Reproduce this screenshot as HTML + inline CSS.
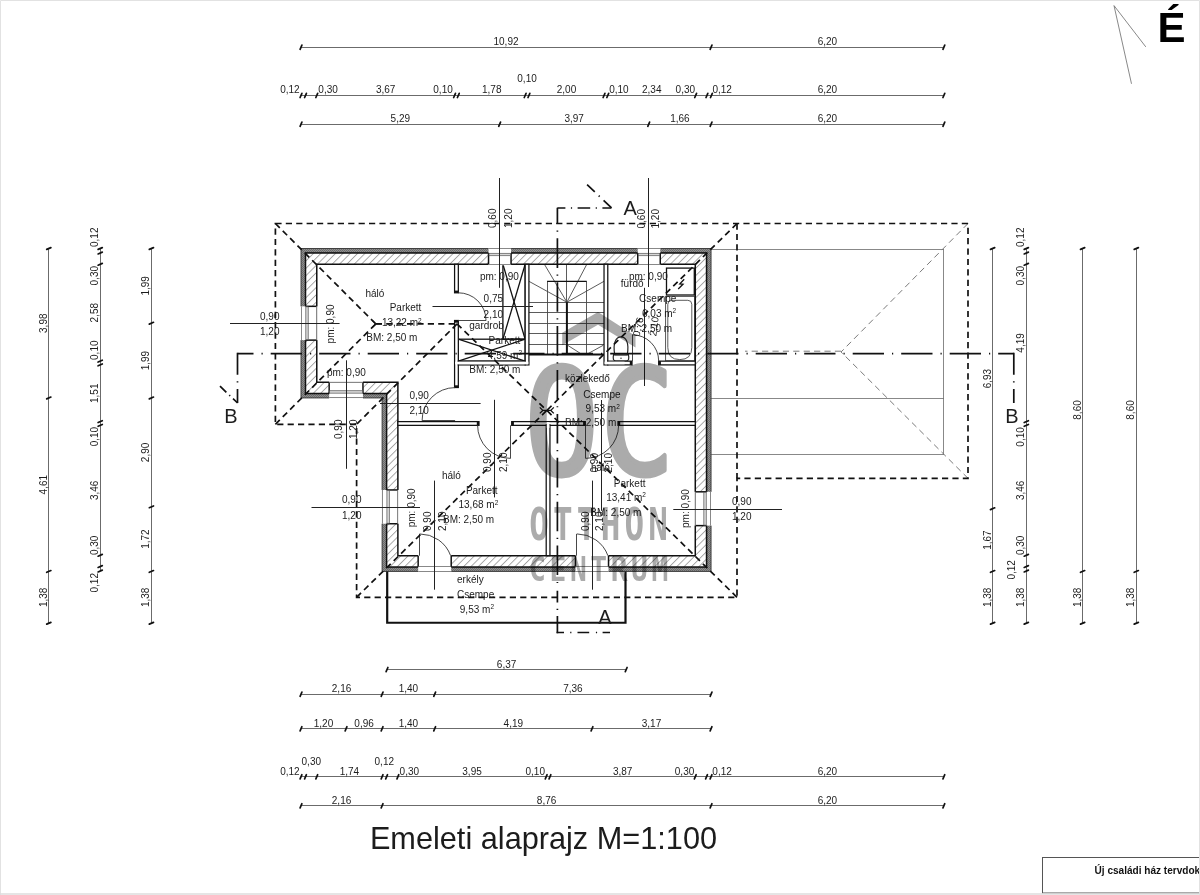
<!DOCTYPE html>
<html lang="hu"><head><meta charset="utf-8"><title>Emeleti alaprajz M=1:100</title>
<style>html,body{margin:0;padding:0;background:#fff;}body{width:1200px;height:895px;overflow:hidden;font-family:"Liberation Sans", Arial, sans-serif;}svg{display:block}</style>
</head><body>
<svg width="1200" height="895" viewBox="0 0 1200 895">
<defs>
<pattern id="hatch" width="5.2" height="5.2" patternUnits="userSpaceOnUse" patternTransform="rotate(-45)">
<rect width="5.2" height="5.2" fill="#fff"/><line x1="0" y1="0.5" x2="5.2" y2="0.5" stroke="#8a8a8a" stroke-width="0.75"/></pattern>
<pattern id="ins" width="2" height="2" patternUnits="userSpaceOnUse">
<rect width="2" height="2" fill="#8e8e8e"/><rect width="1" height="1" fill="#6a6a6a"/><rect x="1" y="1" width="1" height="1" fill="#6a6a6a"/></pattern>
</defs>
<style>
text{font-family:"Liberation Sans", Arial, sans-serif;fill:#1c1c1c}
.t{font-size:10px}
.sup{font-size:6.5px}
.thin{stroke:#6a6a6a;stroke-width:0.8;fill:none}
.thin2{stroke:#8a8a8a;stroke-width:0.8;fill:none}
.dimln{stroke:#5a5a5a;stroke-width:0.9;fill:none}
.mark{stroke:#222;stroke-width:1;fill:none}
.tick{stroke:#111;stroke-width:1.7;fill:none;stroke-linecap:round}
.wall{stroke:#111;stroke-width:1.5;fill:none;stroke-linejoin:miter}
.wallh{stroke:none;fill:url(#hatch)}
.insf{stroke:none;fill:url(#ins)}
.part{stroke:#111;stroke-width:1.25;fill:#fff}
.blk{stroke:#111;stroke-width:1.3;fill:none}
.door{stroke:#333;stroke-width:0.9;fill:none}
.roof{stroke:#111;stroke-width:1.7;fill:none;stroke-dasharray:6.2 4.2}
.roofthin{stroke:#7a7a7a;stroke-width:1;fill:none;stroke-dasharray:6.2 4.2}
.sect{stroke:#111;stroke-width:1.7;fill:none;stroke-dasharray:29 6.5 1.5 6.5}
.bal{stroke:#111;stroke-width:2.2;fill:none;stroke-linejoin:miter}
.wm{fill:#ababab;stroke:none}
.wmt{fill:#ababab;stroke:#ababab;font-weight:normal}
.fix{stroke:#484848;stroke-width:0.9;fill:none}
.fixb{stroke:#222;stroke-width:1.2;fill:#fff}
</style>
<rect x="0" y="0" width="1200" height="895" fill="#fff"/>
<g id="rightroof">
<line class="thin" x1="711.05" y1="249.5" x2="943.86" y2="249.5"/>
<line class="thin" x1="711.05" y1="398.5" x2="943.86" y2="398.5"/>
<line class="thin" x1="711.05" y1="454.5" x2="943.86" y2="454.5"/>
<line class="thin" x1="943.5" y1="249.2" x2="943.5" y2="454.8"/>
<line class="roofthin" x1="968" y1="223.5" x2="841.06" y2="352"/>
<line class="roofthin" x1="968" y1="478.3" x2="841.06" y2="352"/>
<line class="roofthin" x1="841.06" y1="351.2" x2="745" y2="351.2"/>
</g>
<g id="stairs">
<line class="fix" x1="528.93" y1="302.5" x2="604.03" y2="302.5"/>
<line class="fix" x1="528.93" y1="312.5" x2="604.03" y2="312.5"/>
<line class="fix" x1="528.93" y1="323.5" x2="604.03" y2="323.5"/>
<line class="fix" x1="528.93" y1="333.5" x2="604.03" y2="333.5"/>
<line class="fix" x1="528.93" y1="344.5" x2="604.03" y2="344.5"/>
<line class="fix" x1="547.5" y1="281.3" x2="547.5" y2="354.6"/>
<line class="fix" x1="586.5" y1="281.3" x2="586.5" y2="354.6"/>
<line class="fix" x1="566.9" y1="302.2" x2="528.93" y2="281.3"/>
<line class="fix" x1="566.9" y1="302.2" x2="544.4" y2="264.27"/>
<line class="fix" x1="566.5" y1="302.2" x2="566.5" y2="264.27"/>
<line class="fix" x1="566.9" y1="302.2" x2="586.8" y2="264.27"/>
<line class="fix" x1="566.9" y1="302.2" x2="604.03" y2="281.3"/>
<line class="fix" x1="568" y1="345.5" x2="581" y2="353.8"/>
<line class="fix" x1="603.2" y1="345.3" x2="587.7" y2="353.8"/>
<line class="blk" x1="547.1" y1="281.3" x2="586.7" y2="281.3"/>
<line x1="566.9" y1="302.2" x2="566.9" y2="354.6" stroke="#111" stroke-width="2"/>
<line x1="528.93" y1="354.6" x2="604.03" y2="354.6" stroke="#111" stroke-width="2"/>
</g>
<g id="fixtures">
<rect class="blk" x="666.5" y="268.1" width="27.8" height="26.9"/>
<path class="blk" d="M684.2 279.2 L679.8 283.9 L683 284.2 L678.2 289"/>
<rect class="fix" x="665.6" y="296.4" width="29" height="64.4"/>
<path class="fix" d="M667.8 304.3 Q667.8 300.3 671.8 300.3 L687.8 300.3 Q691.8 300.3 691.8 304.3 L691.8 347.5 Q691.8 359.6 679.8 359.6 Q667.8 359.6 667.8 347.5 Z"/>
<path class="fixb" d="M613.6 354.6 Q612 361 616 361 L626 361 Q630 361 628.4 354.6 Z"/>
<path class="fixb" d="M614.8 354.8 C612.5 343 616 336.8 621 336.8 C626 336.8 629.5 343 627.2 354.8 Z"/>
<circle cx="621" cy="358.2" r="0.7" fill="#222"/>
</g>
<g id="closets">
<rect class="blk" x="502.9" y="264.27" width="22.27" height="74.93"/>
<line class="blk" x1="502.9" y1="264.27" x2="525.17" y2="339.2"/>
<line class="blk" x1="525.17" y1="264.27" x2="502.9" y2="339.2"/>
<rect class="blk" x="458.33" y="339.2" width="66.84" height="21.95"/>
<line class="blk" x1="458.33" y1="339.2" x2="525.17" y2="361.15"/>
<line class="blk" x1="525.17" y1="339.2" x2="458.33" y2="361.15"/>
</g>
<g id="walls">
<path fill-rule="evenodd" d="M301 248.5 L711.05 248.5 L711.05 571.43 L382.11 571.43 L382.11 397.95 L301 397.95 Z M305.51 253.01 L706.54 253.01 L706.54 566.92 L386.61 566.92 L386.61 393.44 L305.51 393.44 Z" fill="url(#ins)" stroke="#333" stroke-width="0.9"/>
<path fill-rule="evenodd" d="M305.51 253.01 L706.54 253.01 L706.54 566.92 L386.61 566.92 L386.61 393.44 L305.51 393.44 Z M316.77 264.27 L695.28 264.27 L695.28 555.66 L397.88 555.66 L397.88 382.18 L316.77 382.18 Z" fill="url(#hatch)" stroke="#111" stroke-width="1.5"/>
<rect x="300" y="306.33" width="17.77" height="33.79" fill="#fff"/>
<line class="wall" x1="305.51" y1="306.33" x2="316.77" y2="306.33"/>
<line class="wall" x1="305.51" y1="340.12" x2="316.77" y2="340.12"/>
<line class="thin" x1="301.5" y1="306.33" x2="301.5" y2="340.12"/>
<line class="thin" x1="316.5" y1="306.33" x2="316.5" y2="340.12"/>
<rect x="305.81" y="306.83" width="2.4" height="32.79" fill="#d8d8d8" stroke="#555" stroke-width="0.7"/>
<rect x="329.16" y="381.18" width="33.79" height="17.77" fill="#fff"/>
<line class="wall" x1="329.16" y1="393.44" x2="329.16" y2="382.18"/>
<line class="wall" x1="362.96" y1="393.44" x2="362.96" y2="382.18"/>
<line class="thin" x1="329.16" y1="397.5" x2="362.96" y2="397.5"/>
<line class="thin" x1="329.16" y1="382.5" x2="362.96" y2="382.5"/>
<rect x="329.66" y="390.74" width="32.79" height="2.4" fill="#d8d8d8" stroke="#555" stroke-width="0.7"/>
<rect x="488.54" y="247.5" width="22.53" height="17.77" fill="#fff"/>
<line class="wall" x1="488.54" y1="253.01" x2="488.54" y2="264.27"/>
<line class="wall" x1="511.06" y1="253.01" x2="511.06" y2="264.27"/>
<line class="thin" x1="488.54" y1="248.5" x2="511.06" y2="248.5"/>
<line class="thin" x1="488.54" y1="264.5" x2="511.06" y2="264.5"/>
<rect x="489.04" y="253.31" width="21.53" height="2.4" fill="#d8d8d8" stroke="#555" stroke-width="0.7"/>
<rect x="637.74" y="247.5" width="22.53" height="17.77" fill="#fff"/>
<line class="wall" x1="637.74" y1="253.01" x2="637.74" y2="264.27"/>
<line class="wall" x1="660.26" y1="253.01" x2="660.26" y2="264.27"/>
<line class="thin" x1="637.74" y1="248.5" x2="660.26" y2="248.5"/>
<line class="thin" x1="637.74" y1="264.5" x2="660.26" y2="264.5"/>
<rect x="638.24" y="253.31" width="21.53" height="2.4" fill="#d8d8d8" stroke="#555" stroke-width="0.7"/>
<rect x="694.28" y="491.82" width="17.77" height="33.8" fill="#fff"/>
<line class="wall" x1="706.54" y1="491.82" x2="695.28" y2="491.82"/>
<line class="wall" x1="706.54" y1="525.62" x2="695.28" y2="525.62"/>
<line class="thin" x1="710.5" y1="491.82" x2="710.5" y2="525.62"/>
<line class="thin" x1="695.5" y1="491.82" x2="695.5" y2="525.62"/>
<rect x="703.84" y="492.32" width="2.4" height="32.8" fill="#d8d8d8" stroke="#555" stroke-width="0.7"/>
<rect x="381.11" y="489.95" width="17.77" height="33.79" fill="#fff"/>
<line class="wall" x1="386.61" y1="489.95" x2="397.88" y2="489.95"/>
<line class="wall" x1="386.61" y1="523.74" x2="397.88" y2="523.74"/>
<line class="thin" x1="382.5" y1="489.95" x2="382.5" y2="523.74"/>
<line class="thin" x1="397.5" y1="489.95" x2="397.5" y2="523.74"/>
<rect x="386.91" y="490.45" width="2.4" height="32.79" fill="#d8d8d8" stroke="#555" stroke-width="0.7"/>
<rect x="418.16" y="554.66" width="33.04" height="17.77" fill="#fff"/>
<line class="wall" x1="418.16" y1="566.92" x2="418.16" y2="555.66"/>
<line class="wall" x1="451.2" y1="566.92" x2="451.2" y2="555.66"/>
<line class="thin" x1="418.16" y1="571.5" x2="451.2" y2="571.5"/>
<line class="thin" x1="418.16" y1="566.5" x2="451.2" y2="566.5"/>
<rect x="575.49" y="554.66" width="33.04" height="17.77" fill="#fff"/>
<line class="wall" x1="575.49" y1="566.92" x2="575.49" y2="555.66"/>
<line class="wall" x1="608.53" y1="566.92" x2="608.53" y2="555.66"/>
<line class="thin" x1="575.49" y1="571.5" x2="608.53" y2="571.5"/>
<line class="thin" x1="575.49" y1="566.5" x2="608.53" y2="566.5"/>
</g>
<g id="partitions">
<rect class="part" x="454.58" y="264.27" width="3.75" height="28.53"/>
<rect class="part" x="454.58" y="320.5" width="3.75" height="67"/>
<rect class="part" x="525.17" y="264.27" width="3.75" height="100.63"/>
<rect class="part" x="604.03" y="264.27" width="3.75" height="100.63"/>
<rect class="part" x="458.33" y="361.15" width="66.84" height="3.75"/>
<rect class="part" x="607.78" y="361.15" width="24.22" height="3.75"/>
<rect class="part" x="658.7" y="361.15" width="36.58" height="3.75"/>
<rect x="455.13" y="361.7" width="73.25" height="2.65" fill="#fff"/>
<rect x="604.58" y="361.7" width="20" height="2.65" fill="#fff"/>
<rect class="part" x="397.88" y="421.61" width="81.12" height="3.75"/>
<rect class="part" x="511.7" y="421.61" width="73.6" height="3.75"/>
<rect class="part" x="618" y="421.61" width="77.28" height="3.75"/>
<rect class="part" x="546.2" y="424.86" width="3.75" height="130.8"/>
<rect x="546.75" y="422.16" width="2.65" height="5.75" fill="#fff"/>
<rect x="454.58" y="290.6" width="3.75" height="2.2" fill="#111"/>
<rect x="454.58" y="320.5" width="3.75" height="2.2" fill="#111"/>
<rect x="454.58" y="385.3" width="3.75" height="2.2" fill="#111"/>
<rect x="476.8" y="421.61" width="2.2" height="3.75" fill="#111"/>
<rect x="511.7" y="421.61" width="2.2" height="3.75" fill="#111"/>
<rect x="583.1" y="421.61" width="2.2" height="3.75" fill="#111"/>
<rect x="618" y="421.61" width="2.2" height="3.75" fill="#111"/>
<rect x="629.8" y="361.15" width="2.2" height="3.75" fill="#111"/>
<rect x="658.7" y="361.15" width="2.2" height="3.75" fill="#111"/>
</g>
<g id="doors">
<line class="door" x1="458.33" y1="320.5" x2="486.03" y2="320.5"/>
<path class="door" d="M486.03 320.5 A27.7 27.7 0 0 0 458.33 292.8"/>
<line class="door" x1="455.08" y1="420.5" x2="422.08" y2="420.5"/>
<path class="door" d="M422.08 420.6 A33 33 0 0 1 455.08 387.6"/>
<line class="door" x1="510.5" y1="425.36" x2="510.5" y2="458.36"/>
<path class="door" d="M510.6 458.36 A33 33 0 0 1 477.6 425.36"/>
<line class="door" x1="585.5" y1="425.36" x2="585.5" y2="458.36"/>
<path class="door" d="M585.6 458.36 A33 33 0 0 0 618.6 425.36"/>
<line class="door" x1="632.5" y1="361.15" x2="632.5" y2="334.75"/>
<path class="door" d="M632.3 334.75 A26.4 26.4 0 0 1 658.7 361.15"/>
<line class="door" x1="419.5" y1="555.66" x2="419.5" y2="533.92"/>
<path class="door" d="M419.6 533.92 A33 33 0 0 1 450.62 555.66"/>
<line class="door" x1="576.5" y1="555.66" x2="576.5" y2="533.92"/>
<path class="door" d="M576.9 533.92 A33 33 0 0 1 607.92 555.66"/>
</g>
<path class="bal" d="M387.2 571.43 L387.2 622.75 L625.5 622.75 L625.5 571.43"/>
<g id="roof">
<path class="roof" d="M275.4 223.5 L968 223.5 L968 478.3 L737 478.3 L737 597.3 L356.6 597.3 L356.6 424.3 L275.4 424.3 Z"/>
<line class="roof" x1="737" y1="223.5" x2="737" y2="478.3"/>
<line class="roof" x1="275.4" y1="223.5" x2="375.8" y2="323.9"/>
<line class="roof" x1="275.4" y1="424.3" x2="375.8" y2="323.9"/>
<line class="roof" x1="375.8" y1="323.9" x2="457" y2="323.9"/>
<line class="roof" x1="457" y1="323.9" x2="356.6" y2="424.3"/>
<line class="roof" x1="457" y1="323.9" x2="546.8" y2="410.4"/>
<line class="roof" x1="737" y1="223.5" x2="546.8" y2="410.4"/>
<line class="roof" x1="737" y1="597.3" x2="546.8" y2="410.4"/>
<line class="roof" x1="356.6" y1="597.3" x2="546.8" y2="410.4"/>
<path class="blk" d="M372.3 320.4 L375.8 323.9 L372.3 327.4 M375.8 323.9 L381.8 323.9"/>
<path class="blk" d="M539.8 407.4 L542.8 410.4 L539.8 413.4 M542.8 410.4 L550.8 410.4 M553.8 407.4 L550.8 410.4 L553.8 413.4"/>
</g>
<g id="sections">
<path class="sect" style="stroke-dasharray:31.3 8 1.2 8;stroke-dashoffset:15.3" d="M237.5 353.6 L1013.8 353.6"/>
<path class="sect" style="stroke-dasharray:22 6.5 1.2 6.5 14 99" d="M237.5 352.8 L237.5 403"/>
<path class="sect" style="stroke-dasharray:22 6.5 1.2 6.5 14 99" d="M1013.8 352.8 L1013.8 403"/>
<path class="sect" style="stroke-dasharray:8.8 4 1.2 4 8 99" d="M220 386.2 L237.6 403"/>
<path class="sect" style="stroke-dasharray:29.6 6.55 1.2 6.55;stroke-dashoffset:13.3" d="M557.4 207.7 L557.4 575"/>
<path class="sect" style="stroke-dasharray:none" d="M557.4 581.9 V583.1 M557.4 590.8 V602.6 M557.4 608.7 V609.9 M557.4 616 V633.3"/>
<path class="sect" style="stroke-dasharray:8 5.5 1.2 5.5 12.6 5.5 1.2 5.5 9 99" d="M557.4 208 L611.6 208"/>
<path class="sect" style="stroke-dasharray:10.6 5.5 1.2 5.5 11 99" d="M587.1 184.6 L611.6 208"/>
<path class="sect" style="stroke-dasharray:none" d="M556.6 632.5 H564 M570.2 632.5 H571.4 M577.5 632.5 H589.2 M595.9 632.5 H597.1 M602.6 632.5 H610"/>
<text class="t" x="224.2" y="423.3" style="font-size:20px">B</text>
<text class="t" x="1005.2" y="423.3" style="font-size:20px">B</text>
<text class="t" x="623.6" y="215.4" style="font-size:20px">A</text>
<text class="t" x="598.2" y="623.6" style="font-size:20px">A</text>
</g>
<g id="markers">
<line class="mark" x1="432.5" y1="306.5" x2="533" y2="306.5"/>
<text class="t" x="483.6" y="301.7">0,75</text>
<text class="t" x="483.6" y="317.5">2,10</text>
<line class="mark" x1="380" y1="403.5" x2="480.6" y2="403.5"/>
<text class="t" x="409.4" y="399.3">0,90</text>
<text class="t" x="409.4" y="414.4">2,10</text>
<line class="mark" x1="494.5" y1="399.8" x2="494.5" y2="497.4"/>
<text class="t" transform="translate(491.2 472) rotate(-90)">0,90</text>
<text class="t" transform="translate(507.2 472) rotate(-90)">2,10</text>
<line class="mark" x1="601.5" y1="400" x2="601.5" y2="510.8"/>
<text class="t" transform="translate(597.8 472.5) rotate(-90)">0,90</text>
<text class="t" transform="translate(612.2 472.5) rotate(-90)">2,10</text>
<line class="mark" x1="644.5" y1="287.8" x2="644.5" y2="386"/>
<text class="t" transform="translate(639.6 337) rotate(-78)">0,76</text>
<text class="t" transform="translate(656.2 336.6) rotate(-83)">2,10</text>
<line class="mark" x1="434.5" y1="480.6" x2="434.5" y2="589.7"/>
<text class="t" transform="translate(431.4 531) rotate(-90)">0,90</text>
<text class="t" transform="translate(445.8 531) rotate(-90)">2,10</text>
<line class="mark" x1="592.5" y1="480.6" x2="592.5" y2="589.7"/>
<text class="t" transform="translate(588.8 531) rotate(-90)">0,90</text>
<text class="t" transform="translate(603.2 531) rotate(-90)">2,10</text>
<line class="mark" x1="230" y1="323.5" x2="339.6" y2="323.5"/>
<text class="t" x="260" y="319.5">0,90</text>
<text class="t" x="260" y="335">1,20</text>
<line class="mark" x1="346.5" y1="360.3" x2="346.5" y2="468.8"/>
<text class="t" transform="translate(342.3 439) rotate(-90)">0,90</text>
<text class="t" transform="translate(357.3 439) rotate(-90)">1,20</text>
<line class="mark" x1="499.5" y1="178" x2="499.5" y2="287.8"/>
<text class="t" transform="translate(496.2 228) rotate(-90)">0,60</text>
<text class="t" transform="translate(511.5 228) rotate(-90)">1,20</text>
<line class="mark" x1="648.5" y1="178" x2="648.5" y2="287"/>
<text class="t" transform="translate(644.8 228.5) rotate(-90)">0,60</text>
<text class="t" transform="translate(658.8 228.5) rotate(-90)">1,20</text>
<line class="mark" x1="673.3" y1="509.5" x2="782" y2="509.5"/>
<text class="t" x="732" y="505">0,90</text>
<text class="t" x="732" y="520">1,20</text>
<line class="mark" x1="311.5" y1="507.5" x2="420" y2="507.5"/>
<text class="t" x="342" y="503">0,90</text>
<text class="t" x="342" y="518.7">1,20</text>
<text class="t" transform="translate(333.9 343.4) rotate(-90)">pm: 0,90</text>
<text class="t" x="326.9" y="375.5">pm: 0,90</text>
<text class="t" x="479.9" y="280.2">pm: 0,90</text>
<text class="t" x="628.9" y="280.2">pm: 0,90</text>
<text class="t" transform="translate(689 528) rotate(-90)">pm: 0,90</text>
<text class="t" transform="translate(414.6 527.3) rotate(-90)">pm: 0,90</text>
</g>
<g id="rooms">
<text class="t" x="365.4" y="297">háló</text>
<text class="t" x="389.7" y="311.2">Parkett</text>
<text class="t" x="381.9" y="326.3">13,22 m<tspan class="sup" dy="-3.6">2</tspan></text>
<text class="t" x="366.3" y="340.6">BM: 2,50 m</text>
<text class="t" x="469.3" y="328.5">gardrob</text>
<text class="t" x="488.6" y="344">Parkett</text>
<text class="t" x="487.8" y="359">4,59 m<tspan class="sup" dy="-3.6">2</tspan></text>
<text class="t" x="469.3" y="372.8">BM: 2,50 m</text>
<text class="t" x="620.8" y="287.2">fürdő</text>
<text class="t" x="639.1" y="301.7">Csempe</text>
<text class="t" x="642" y="317">6,03 m<tspan class="sup" dy="-3.6">2</tspan></text>
<text class="t" x="621" y="331.9">BM: 2,50 m</text>
<text class="t" x="564.9" y="381.7">közlekedő</text>
<text class="t" x="583.3" y="397.6">Csempe</text>
<text class="t" x="585.6" y="412.2">9,53 m<tspan class="sup" dy="-3.6">2</tspan></text>
<text class="t" x="565.1" y="426.1">BM: 2,50 m</text>
<text class="t" x="442" y="478.6">háló</text>
<text class="t" x="465.9" y="493.7">Parkett</text>
<text class="t" x="458.5" y="508.2">13,68 m<tspan class="sup" dy="-3.6">2</tspan></text>
<text class="t" x="443" y="523.3">BM: 2,50 m</text>
<text class="t" x="591" y="471.4">háló</text>
<text class="t" x="613.8" y="486.5">Parkett</text>
<text class="t" x="606.2" y="500.7">13,41 m<tspan class="sup" dy="-3.6">2</tspan></text>
<text class="t" x="590.3" y="515.5">BM: 2,50 m</text>
<text class="t" x="457" y="582.5">erkély</text>
<text class="t" x="457" y="597.6">Csempe</text>
<text class="t" x="459.8" y="612.7">9,53 m<tspan class="sup" dy="-3.6">2</tspan></text>
</g>
<g id="dims">
<line class="dimln" x1="301" y1="47.5" x2="943.86" y2="47.5"/>
<line class="tick" x1="300.1" y1="49.3" x2="301.9" y2="45.1"/>
<line class="tick" x1="710.15" y1="49.3" x2="711.95" y2="45.1"/>
<line class="tick" x1="942.96" y1="49.3" x2="944.76" y2="45.1"/>
<text class="t" text-anchor="middle" x="506.02" y="45.2">10,92</text>
<text class="t" text-anchor="middle" x="827.45" y="45.2">6,20</text>
<line class="dimln" x1="301" y1="95.5" x2="943.86" y2="95.5"/>
<line class="tick" x1="300.1" y1="97.5" x2="301.9" y2="93.3"/>
<line class="tick" x1="304.61" y1="97.5" x2="306.41" y2="93.3"/>
<line class="tick" x1="315.87" y1="97.5" x2="317.67" y2="93.3"/>
<line class="tick" x1="453.68" y1="97.5" x2="455.48" y2="93.3"/>
<line class="tick" x1="457.43" y1="97.5" x2="459.23" y2="93.3"/>
<line class="tick" x1="524.27" y1="97.5" x2="526.07" y2="93.3"/>
<line class="tick" x1="528.03" y1="97.5" x2="529.83" y2="93.3"/>
<line class="tick" x1="603.13" y1="97.5" x2="604.93" y2="93.3"/>
<line class="tick" x1="606.88" y1="97.5" x2="608.68" y2="93.3"/>
<line class="tick" x1="694.75" y1="97.5" x2="696.55" y2="93.3"/>
<line class="tick" x1="706.02" y1="97.5" x2="707.82" y2="93.3"/>
<line class="tick" x1="710.52" y1="97.5" x2="712.32" y2="93.3"/>
<line class="tick" x1="942.96" y1="97.5" x2="944.76" y2="93.3"/>
<text class="t" text-anchor="end" x="299.7" y="93.4">0,12</text>
<text class="t" text-anchor="start" x="318.37" y="93.4">0,30</text>
<text class="t" text-anchor="middle" x="385.68" y="93.4">3,67</text>
<text class="t" text-anchor="end" x="452.78" y="93.4">0,10</text>
<text class="t" text-anchor="middle" x="491.75" y="93.4">1,78</text>
<text class="t" text-anchor="middle" x="527.05" y="82.2">0,10</text>
<text class="t" text-anchor="middle" x="566.48" y="93.4">2,00</text>
<text class="t" text-anchor="start" x="609.18" y="93.4">0,10</text>
<text class="t" text-anchor="middle" x="651.72" y="93.4">2,34</text>
<text class="t" text-anchor="end" x="695.05" y="93.4">0,30</text>
<text class="t" text-anchor="start" x="712.42" y="93.4">0,12</text>
<text class="t" text-anchor="middle" x="827.45" y="93.4">6,20</text>
<line class="dimln" x1="301" y1="124.5" x2="943.86" y2="124.5"/>
<line class="tick" x1="300.1" y1="126.3" x2="301.9" y2="122.1"/>
<line class="tick" x1="498.74" y1="126.3" x2="500.54" y2="122.1"/>
<line class="tick" x1="647.81" y1="126.3" x2="649.61" y2="122.1"/>
<line class="tick" x1="710.15" y1="126.3" x2="711.95" y2="122.1"/>
<line class="tick" x1="942.96" y1="126.3" x2="944.76" y2="122.1"/>
<text class="t" text-anchor="middle" x="400.32" y="122.2">5,29</text>
<text class="t" text-anchor="middle" x="574.18" y="122.2">3,97</text>
<text class="t" text-anchor="middle" x="679.88" y="122.2">1,66</text>
<text class="t" text-anchor="middle" x="827.45" y="122.2">6,20</text>
<line class="dimln" x1="387" y1="669.5" x2="626.2" y2="669.5"/>
<line class="tick" x1="386.1" y1="671.7" x2="387.9" y2="667.5"/>
<line class="tick" x1="625.3" y1="671.7" x2="627.1" y2="667.5"/>
<text class="t" text-anchor="middle" x="506.6" y="667.6">6,37</text>
<line class="dimln" x1="301" y1="694.5" x2="711.05" y2="694.5"/>
<line class="tick" x1="300.1" y1="696.3" x2="301.9" y2="692.1"/>
<line class="tick" x1="381.21" y1="696.3" x2="383.01" y2="692.1"/>
<line class="tick" x1="433.78" y1="696.3" x2="435.58" y2="692.1"/>
<line class="tick" x1="710.15" y1="696.3" x2="711.95" y2="692.1"/>
<text class="t" text-anchor="middle" x="341.55" y="692.2">2,16</text>
<text class="t" text-anchor="middle" x="408.39" y="692.2">1,40</text>
<text class="t" text-anchor="middle" x="572.86" y="692.2">7,36</text>
<line class="dimln" x1="301" y1="728.5" x2="711.05" y2="728.5"/>
<line class="tick" x1="300.1" y1="730.9" x2="301.9" y2="726.7"/>
<line class="tick" x1="345.16" y1="730.9" x2="346.96" y2="726.7"/>
<line class="tick" x1="381.21" y1="730.9" x2="383.01" y2="726.7"/>
<line class="tick" x1="433.78" y1="730.9" x2="435.58" y2="726.7"/>
<line class="tick" x1="591.11" y1="730.9" x2="592.91" y2="726.7"/>
<line class="tick" x1="710.15" y1="730.9" x2="711.95" y2="726.7"/>
<text class="t" text-anchor="middle" x="323.53" y="726.8">1,20</text>
<text class="t" text-anchor="middle" x="364.08" y="726.8">0,96</text>
<text class="t" text-anchor="middle" x="408.39" y="726.8">1,40</text>
<text class="t" text-anchor="middle" x="513.35" y="726.8">4,19</text>
<text class="t" text-anchor="middle" x="651.53" y="726.8">3,17</text>
<line class="dimln" x1="301" y1="776.5" x2="943.86" y2="776.5"/>
<line class="tick" x1="300.1" y1="778.9" x2="301.9" y2="774.7"/>
<line class="tick" x1="304.61" y1="778.9" x2="306.41" y2="774.7"/>
<line class="tick" x1="315.87" y1="778.9" x2="317.67" y2="774.7"/>
<line class="tick" x1="381.21" y1="778.9" x2="383.01" y2="774.7"/>
<line class="tick" x1="385.71" y1="778.9" x2="387.51" y2="774.7"/>
<line class="tick" x1="396.98" y1="778.9" x2="398.78" y2="774.7"/>
<line class="tick" x1="545.3" y1="778.9" x2="547.1" y2="774.7"/>
<line class="tick" x1="549.06" y1="778.9" x2="550.86" y2="774.7"/>
<line class="tick" x1="694.38" y1="778.9" x2="696.17" y2="774.7"/>
<line class="tick" x1="705.64" y1="778.9" x2="707.44" y2="774.7"/>
<line class="tick" x1="710.15" y1="778.9" x2="711.95" y2="774.7"/>
<line class="tick" x1="942.96" y1="778.9" x2="944.76" y2="774.7"/>
<text class="t" text-anchor="end" x="299.7" y="774.8">0,12</text>
<text class="t" text-anchor="middle" x="311.3" y="765.2">0,30</text>
<text class="t" text-anchor="middle" x="349.44" y="774.8">1,74</text>
<text class="t" text-anchor="middle" x="384.3" y="765.2">0,12</text>
<text class="t" text-anchor="start" x="399.58" y="774.8">0,30</text>
<text class="t" text-anchor="middle" x="472.04" y="774.8">3,95</text>
<text class="t" text-anchor="end" x="545" y="774.8">0,10</text>
<text class="t" text-anchor="middle" x="622.62" y="774.8">3,87</text>
<text class="t" text-anchor="end" x="694.27" y="774.8">0,30</text>
<text class="t" text-anchor="start" x="712.35" y="774.8">0,12</text>
<text class="t" text-anchor="middle" x="827.45" y="774.8">6,20</text>
<line class="dimln" x1="301" y1="805.5" x2="943.86" y2="805.5"/>
<line class="tick" x1="300.1" y1="807.9" x2="301.9" y2="803.7"/>
<line class="tick" x1="381.21" y1="807.9" x2="383.01" y2="803.7"/>
<line class="tick" x1="710.15" y1="807.9" x2="711.95" y2="803.7"/>
<line class="tick" x1="942.96" y1="807.9" x2="944.76" y2="803.7"/>
<text class="t" text-anchor="middle" x="341.55" y="803.8">2,16</text>
<text class="t" text-anchor="middle" x="546.58" y="803.8">8,76</text>
<text class="t" text-anchor="middle" x="827.45" y="803.8">6,20</text>
<line class="dimln" x1="48.5" y1="248.5" x2="48.5" y2="623.25"/>
<line class="tick" x1="46.7" y1="249.4" x2="50.9" y2="247.6"/>
<line class="tick" x1="46.7" y1="398.85" x2="50.9" y2="397.05"/>
<line class="tick" x1="46.7" y1="572.33" x2="50.9" y2="570.53"/>
<line class="tick" x1="46.7" y1="624.15" x2="50.9" y2="622.35"/>
<text class="t" text-anchor="middle" transform="translate(46.8 323.22) rotate(-90)">3,98</text>
<text class="t" text-anchor="middle" transform="translate(46.8 484.69) rotate(-90)">4,61</text>
<text class="t" text-anchor="middle" transform="translate(46.8 597.34) rotate(-90)">1,38</text>
<line class="dimln" x1="100.5" y1="248.5" x2="100.5" y2="571.05"/>
<line class="tick" x1="98.1" y1="249.4" x2="102.3" y2="247.6"/>
<line class="tick" x1="98.1" y1="253.91" x2="102.3" y2="252.11"/>
<line class="tick" x1="98.1" y1="265.17" x2="102.3" y2="263.37"/>
<line class="tick" x1="98.1" y1="362.05" x2="102.3" y2="360.25"/>
<line class="tick" x1="98.1" y1="365.8" x2="102.3" y2="364"/>
<line class="tick" x1="98.1" y1="422.51" x2="102.3" y2="420.71"/>
<line class="tick" x1="98.1" y1="426.26" x2="102.3" y2="424.46"/>
<line class="tick" x1="98.1" y1="556.18" x2="102.3" y2="554.38"/>
<line class="tick" x1="98.1" y1="567.45" x2="102.3" y2="565.65"/>
<line class="tick" x1="98.1" y1="571.95" x2="102.3" y2="570.15"/>
<text class="t" text-anchor="start" transform="translate(98.2 247) rotate(-90)">0,12</text>
<text class="t" text-anchor="end" transform="translate(98.2 265.97) rotate(-90)">0,30</text>
<text class="t" text-anchor="middle" transform="translate(98.2 312.71) rotate(-90)">2,58</text>
<text class="t" text-anchor="start" transform="translate(98.2 359.95) rotate(-90)">0,10</text>
<text class="t" text-anchor="middle" transform="translate(98.2 393.26) rotate(-90)">1,51</text>
<text class="t" text-anchor="end" transform="translate(98.2 426.86) rotate(-90)">0,10</text>
<text class="t" text-anchor="middle" transform="translate(98.2 490.32) rotate(-90)">3,46</text>
<text class="t" text-anchor="start" transform="translate(98.2 555.08) rotate(-90)">0,30</text>
<text class="t" text-anchor="end" transform="translate(98.2 573.05) rotate(-90)">0,12</text>
<line class="dimln" x1="151.5" y1="248.5" x2="151.5" y2="623.25"/>
<line class="tick" x1="149.3" y1="249.4" x2="153.5" y2="247.6"/>
<line class="tick" x1="149.3" y1="324.12" x2="153.5" y2="322.32"/>
<line class="tick" x1="149.3" y1="398.85" x2="153.5" y2="397.05"/>
<line class="tick" x1="149.3" y1="507.74" x2="153.5" y2="505.94"/>
<line class="tick" x1="149.3" y1="572.33" x2="153.5" y2="570.53"/>
<line class="tick" x1="149.3" y1="624.15" x2="153.5" y2="622.35"/>
<text class="t" text-anchor="middle" transform="translate(149.4 285.86) rotate(-90)">1,99</text>
<text class="t" text-anchor="middle" transform="translate(149.4 360.59) rotate(-90)">1,99</text>
<text class="t" text-anchor="middle" transform="translate(149.4 452.4) rotate(-90)">2,90</text>
<text class="t" text-anchor="middle" transform="translate(149.4 539.14) rotate(-90)">1,72</text>
<text class="t" text-anchor="middle" transform="translate(149.4 597.34) rotate(-90)">1,38</text>
<line class="dimln" x1="992.5" y1="248.5" x2="992.5" y2="623.25"/>
<line class="tick" x1="990.5" y1="249.4" x2="994.7" y2="247.6"/>
<line class="tick" x1="990.5" y1="509.62" x2="994.7" y2="507.82"/>
<line class="tick" x1="990.5" y1="572.33" x2="994.7" y2="570.53"/>
<line class="tick" x1="990.5" y1="624.15" x2="994.7" y2="622.35"/>
<text class="t" text-anchor="middle" transform="translate(990.6 378.61) rotate(-90)">6,93</text>
<text class="t" text-anchor="middle" transform="translate(990.6 540.08) rotate(-90)">1,67</text>
<text class="t" text-anchor="middle" transform="translate(990.6 597.34) rotate(-90)">1,38</text>
<line class="dimln" x1="1026.5" y1="248.5" x2="1026.5" y2="623.25"/>
<line class="tick" x1="1024.2" y1="249.4" x2="1028.4" y2="247.6"/>
<line class="tick" x1="1024.2" y1="253.91" x2="1028.4" y2="252.11"/>
<line class="tick" x1="1024.2" y1="265.17" x2="1028.4" y2="263.37"/>
<line class="tick" x1="1024.2" y1="422.51" x2="1028.4" y2="420.71"/>
<line class="tick" x1="1024.2" y1="426.26" x2="1028.4" y2="424.46"/>
<line class="tick" x1="1024.2" y1="556.18" x2="1028.4" y2="554.38"/>
<line class="tick" x1="1024.2" y1="567.45" x2="1028.4" y2="565.65"/>
<line class="tick" x1="1024.2" y1="571.95" x2="1028.4" y2="570.15"/>
<line class="tick" x1="1024.2" y1="624.15" x2="1028.4" y2="622.35"/>
<text class="t" text-anchor="start" transform="translate(1024.3 247) rotate(-90)">0,12</text>
<text class="t" text-anchor="end" transform="translate(1024.3 265.97) rotate(-90)">0,30</text>
<text class="t" text-anchor="middle" transform="translate(1024.3 342.94) rotate(-90)">4,19</text>
<text class="t" text-anchor="end" transform="translate(1024.3 427.16) rotate(-90)">0,10</text>
<text class="t" text-anchor="middle" transform="translate(1024.3 490.32) rotate(-90)">3,46</text>
<text class="t" text-anchor="start" transform="translate(1024.3 555.08) rotate(-90)">0,30</text>
<text class="t" text-anchor="middle" transform="translate(1014.6 569.8) rotate(-90)">0,12</text>
<text class="t" text-anchor="middle" transform="translate(1024.3 597.34) rotate(-90)">1,38</text>
<line class="dimln" x1="1082.5" y1="248.5" x2="1082.5" y2="623.25"/>
<line class="tick" x1="1080.5" y1="249.4" x2="1084.7" y2="247.6"/>
<line class="tick" x1="1080.5" y1="572.33" x2="1084.7" y2="570.53"/>
<line class="tick" x1="1080.5" y1="624.15" x2="1084.7" y2="622.35"/>
<text class="t" text-anchor="middle" transform="translate(1080.6 409.96) rotate(-90)">8,60</text>
<text class="t" text-anchor="middle" transform="translate(1080.6 597.34) rotate(-90)">1,38</text>
<line class="dimln" x1="1136.5" y1="248.5" x2="1136.5" y2="623.25"/>
<line class="tick" x1="1134.2" y1="249.4" x2="1138.4" y2="247.6"/>
<line class="tick" x1="1134.2" y1="572.33" x2="1138.4" y2="570.53"/>
<line class="tick" x1="1134.2" y1="624.15" x2="1138.4" y2="622.35"/>
<text class="t" text-anchor="middle" transform="translate(1134.3 409.96) rotate(-90)">8,60</text>
<text class="t" text-anchor="middle" transform="translate(1134.3 597.34) rotate(-90)">1,38</text>
</g>
<g id="wm" style="mix-blend-mode:multiply">
<path class="wm" d="M562.2 332.7 L598 312 L635.5 336 L635.5 347.5 L598 324.8 L562.2 345.3 Z"/>
<text transform="translate(0 474.35) scale(0.84 1)" x="625 714.9" font-size="145.7" font-weight="normal" style="font-family:'DejaVu Sans Mono', 'Liberation Mono', monospace;fill:#ababab;stroke:#ababab;stroke-width:4.5;vector-effect:non-scaling-stroke;stroke-linejoin:round">OC</text>
<text transform="translate(529.2 540) scale(0.72 1)" font-size="45.3" font-weight="bold" letter-spacing="5.8" style="font-family:'DejaVu Sans Mono', 'Liberation Mono', monospace;fill:#ababab">OTTHON</text>
<text transform="translate(529.1 581) scale(0.85 1)" font-size="32.9" font-weight="bold" letter-spacing="4.2" style="font-family:'DejaVu Sans Mono', 'Liberation Mono', monospace;fill:#ababab">CENTRUM</text>
</g>
<g id="misc">
<text class="t" x="369.9" y="848.8" style="font-size:30.7px">Emeleti alaprajz M=1:100</text>
<text class="t" x="1157.6" y="42.3" style="font-size:42px;font-weight:bold;fill:#000">É</text>
<path class="thin" d="M1145.8 46.9 L1114 5.6 L1131.5 83.8"/>
<rect x="1042.5" y="857.5" width="170" height="35.5" fill="#fff" stroke="#555" stroke-width="1"/>
<text class="t" x="1094.6" y="874" style="font-size:10.05px;font-weight:bold;fill:#111">Új családi ház tervdokumentáció</text>
<path d="M0.5 895 L0.5 0.5 L1199.5 0.5 L1199.5 895" fill="none" stroke="#e2e2e2" stroke-width="1"/>
<line x1="0" y1="894" x2="1200" y2="894" stroke="#dcdcdc" stroke-width="1.4"/>
</g>
</svg>
</body></html>
